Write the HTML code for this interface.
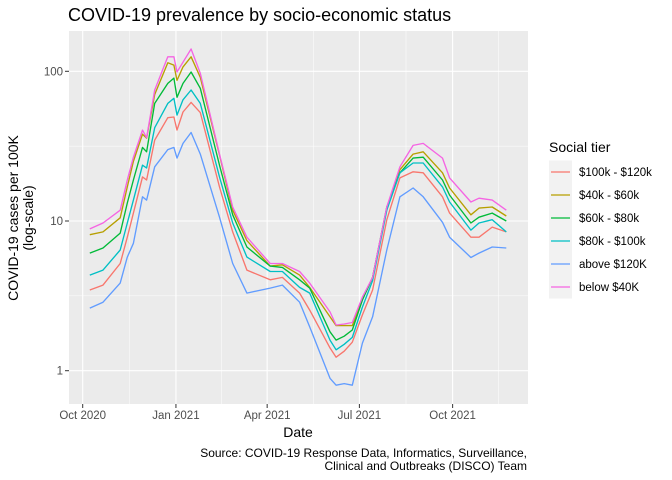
<!DOCTYPE html>
<html><head><meta charset="utf-8"><style>
body{margin:0;background:#fff;}
svg{display:block;font-family:"Liberation Sans",sans-serif;}
</style></head><body>
<svg id="chart" width="672" height="480">
<text x="68" y="21" font-size="18" fill="#000">COVID-19 prevalence by socio-economic status</text>
<rect x="69" y="31" width="459" height="373" fill="#ebebeb"/>
<g id="grid"></g>
<g id="lines"></g>
<g id="axes"></g>
<text transform="translate(18,218) rotate(-90)" text-anchor="middle" font-size="14"><tspan x="0" dy="0">COVID-19 cases per 100K</tspan><tspan x="0" dy="15">(log-scale)</tspan></text>
<text x="298" y="437" text-anchor="middle" font-size="14">Date</text>
<text x="527" y="457" text-anchor="end" font-size="12">Source: COVID-19 Response Data, Informatics, Surveillance,</text>
<text x="527" y="470" text-anchor="end" font-size="12">Clinical and Outbreaks (DISCO) Team</text>
<g id="legend">
<text x="549" y="152" font-size="14">Social tier</text>
</g>
</svg>
<script>
const days=[7,20,37,44,50,59,63,71,84,90,93,99,107,116,135,148,162,185,197,214,224,244,250,258,266,276,286,300,313,326,336,355,362,383,391,404,418];
const red=[3.46,3.73,5.2,7.8,11.3,19.7,18.8,34.7,49,49.5,40.5,53.5,62,53,16.9,8.45,4.7,4.05,4.2,3.3,2.54,1.42,1.23,1.35,1.55,2.36,3.46,10.2,19.4,21.3,21,14.5,11.3,7.8,7.8,9.1,8.45];
const olive=[8.1,8.45,10.5,16.9,25,38,35.8,70,114,110,87,107,125,91,27.6,11.8,7.4,5.0,5.1,4.35,3.6,2.29,2.0,2.0,2.0,3.0,4.2,12,22,28,29,21,16.6,11,12.2,12.4,10.8];
const green=[6.1,6.6,8.3,13.2,18.8,31,29,61,83,90,67,83,99,77,23.6,11,6.7,5.0,4.9,4.05,3.56,1.82,1.6,1.7,1.87,2.96,4.2,12.4,21,26.3,26.7,18.8,14.9,9.7,10.6,11.3,10];
const teal=[4.35,4.7,6.4,9.7,13.8,23.6,22.6,42,61,66,51,64.5,75,61,19.7,9.7,5.74,4.6,4.6,3.6,3.3,1.6,1.38,1.5,1.67,2.66,4.0,11.8,21,24.4,24.4,16.9,13.4,8.7,9.7,10.2,8.45];
const blue=[2.62,2.87,3.85,5.74,7.1,14.5,13.8,23,30,31,26.3,33,39,28,10.6,5.2,3.3,3.56,3.73,2.87,1.96,0.89,0.8,0.82,0.8,1.53,2.29,6.4,14.5,16.6,14.5,9.8,7.8,5.7,6.1,6.7,6.6];
const pink=[8.85,9.7,11.8,18.8,26.7,40.5,36,75,125,125,99,115,141,97,28,12.4,7.8,5.2,5.2,4.6,3.85,2.47,2.02,2.05,2.1,3.1,4.2,12.4,23,32,33,26.3,19.4,13.4,14.2,13.8,11.8];
const seriesNames=["$100k - $120k","$40k - $60k","$60k - $80k","$80k - $100k","above $120K","below $40K"];
const seriesData=[red,olive,green,teal,blue,pink];
const seriesColors=["#F8766D","#B79F00","#00BA38","#00BFC4","#619CFF","#F564E3"];
const yTicks=[1,10,100];
const xTickDays=[0,92,182,273,365];
const xTickLabels=["Oct 2020","Jan 2021","Apr 2021","Jul 2021","Oct 2021"];

const NS="http://www.w3.org/2000/svg";
const X=d=>82.7+d*1.0135;
const Y=v=>221-(Math.log10(v)-1)*149.7;
function mk(t,a,p){const e=document.createElementNS(NS,t);for(const k in a)e.setAttribute(k,a[k]);p.appendChild(e);return e;}
const grid=document.getElementById('grid'),axes=document.getElementById('axes'),lines=document.getElementById('lines'),legend=document.getElementById('legend');
[0.5,1.5].forEach(l=>{const y=Y(Math.pow(10,l));
const g=mk('line',{x1:69,x2:528,y1:y,y2:y,stroke:'#fff','stroke-width':0.5},grid);

});
for(let i=0;i<xTickDays.length;i++){const d=i<xTickDays.length-1?(xTickDays[i]+xTickDays[i+1])/2:xTickDays[i]+45;const x=X(d);
const g=mk('line',{x1:x,x2:x,y1:31,y2:404,stroke:'#fff','stroke-width':0.5},grid);

}
yTicks.forEach(v=>{const y=Y(v);
const g=mk('line',{x1:69,x2:528,y1:y,y2:y,stroke:'#fff','stroke-width':1.1},grid);


const t=mk('line',{x1:65,x2:69,y1:y,y2:y,stroke:'#333'},axes);


const l=mk('text',{x:63,y:y+4,'text-anchor':'end','font-size':11.5,fill:'#4d4d4d'},axes);l.textContent=v;

});
xTickDays.forEach((d,i)=>{const x=X(d);
const g=mk('line',{x1:x,x2:x,y1:31,y2:404,stroke:'#fff','stroke-width':1.1},grid);


const t=mk('line',{x1:x,x2:x,y1:404,y2:408,stroke:'#333'},axes);


const l=mk('text',{x:x,y:419,'text-anchor':'middle','font-size':11.5,fill:'#4d4d4d'},axes);l.textContent=xTickLabels[i];

});
seriesData.forEach((s,k)=>{
const p=mk('polyline',{points:s.map((v,i)=>X(days[i]).toFixed(1)+','+Y(v).toFixed(1)).join(' '),fill:'none',stroke:seriesColors[k],'stroke-width':1.35,'stroke-linejoin':'round'},lines);


const cy=172+k*23;
const bg=mk('rect',{x:549,y:cy-11.5,width:23,height:23,fill:'#f2f2f2'},legend);


const ln=mk('line',{x1:551,x2:570,y1:cy,y2:cy,stroke:seriesColors[k],'stroke-width':1.2},legend);


const tx=mk('text',{x:579,y:cy+4,'font-size':11.5,fill:'#000'},legend);tx.textContent=seriesNames[k];


});
</script>
</body></html>
